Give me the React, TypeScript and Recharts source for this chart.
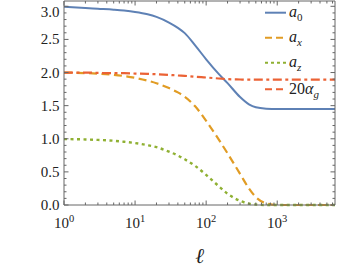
import { LineChart, Line, XAxis, YAxis, Legend } from 'recharts';

// multipole samples and the four curves
const ells = [1, 2, 3, 5, 7, 10, 15, 20, 30, 40, 50, 70, 100, 150, 200, 300, 400, 500, 700, 1000, 2000, 3000, 5000, 6500];
const a0 = [2.995, 2.975, 2.963, 2.948, 2.935, 2.915, 2.88, 2.84, 2.755, 2.675, 2.595, 2.41, 2.2, 1.98, 1.84, 1.63, 1.52, 1.475, 1.455, 1.45, 1.45, 1.45, 1.45, 1.45];
const ax = [2.0, 1.992, 1.983, 1.965, 1.947, 1.92, 1.877, 1.838, 1.765, 1.7, 1.635, 1.49, 1.27, 0.99, 0.78, 0.47, 0.25, 0.12, 0.025, 0, 0, 0, 0, 0];
const az = [0.995, 0.99, 0.983, 0.97, 0.955, 0.935, 0.903, 0.873, 0.805, 0.747, 0.69, 0.59, 0.455, 0.285, 0.17, 0.063, 0.02, 0.008, 0, 0, 0, 0, 0, 0];
const alphaG20 = [2.0, 2.0, 1.995, 1.99, 1.99, 1.985, 1.98, 1.975, 1.965, 1.955, 1.95, 1.935, 1.925, 1.91, 1.9, 1.895, 1.892, 1.892, 1.892, 1.892, 1.892, 1.892, 1.892, 1.892];

const xTicks = [1, 2, 3, 4, 5, 6, 7, 8, 9, 10, 20, 30, 40, 50, 60, 70, 80, 90, 100, 200, 300, 400, 500, 600, 700, 800, 900, 1000, 2000, 3000, 4000, 5000, 6000];
const yTicks = [0, 0.1, 0.2, 0.3, 0.4, 0.5, 0.6, 0.7, 0.8, 0.9, 1.0, 1.1, 1.2, 1.3, 1.4, 1.5, 1.6, 1.7, 1.8, 1.9, 2.0, 2.1, 2.2, 2.3, 2.4, 2.5, 2.6, 2.7, 2.8, 2.9, 3.0];

const data = ells.map((l, i) => ({ l, a0: a0[i], ax: ax[i], az: az[i], ag: alphaG20[i] }));

const FRAME = '#666';
const FONT = '"Liberation Serif", "DejaVu Serif", serif';
const BLUE = '#5E81B5';
const ORANGE = '#E19C24';
const GREEN = '#8FB032';
const RED = '#EB6235';

function XTick(props: any) {
  const { x, y, payload, side } = props;
  const lg = Math.log10(payload.value);
  const exp = Math.round(lg);
  const major = Math.abs(lg - exp) < 1e-9;
  const len = major ? 4.5 : 2.5;
  const inward = side === 'top' ? len : -len;
  return (
    <g>
      <line x1={x} x2={x} y1={y} y2={y + inward} stroke={FRAME} strokeWidth={1} />
      {major && side !== 'top' && (
        <text x={x} y={y + 23} textAnchor="middle" fontFamily={FONT} fontSize={15} fill="#222">
          10<tspan dy={-6} fontSize={10.5}>{exp}</tspan>
        </text>
      )}
    </g>
  );
}

function YTick(props: any) {
  const { x, y, payload, side } = props;
  const v = payload.value;
  const major = Math.abs(v * 2 - Math.round(v * 2)) < 1e-6;
  const len = major ? 4.5 : 2.5;
  const inward = side === 'right' ? -len : len;
  return (
    <g>
      <line x1={x} x2={x + inward} y1={y} y2={y} stroke={FRAME} strokeWidth={1} />
      {major && side !== 'right' && (
        <text x={x - 4.5} y={Math.max(y + 5, 16.5)} textAnchor="end" fontFamily={FONT} fontSize={15} fill="#222">
          {v.toFixed(1)}
        </text>
      )}
    </g>
  );
}

const legendRows = [
  { color: BLUE, dash: undefined, base: 'a', sub: '0', pre: '' },
  { color: ORANGE, dash: '7 4', base: 'a', sub: 'x', pre: '' },
  { color: GREEN, dash: '3 3', base: 'a', sub: 'z', pre: '' },
  { color: RED, dash: '7 4', base: 'α', sub: 'g', pre: '20' },
];
const legendY = [12.7, 37.7, 62.7, 89.3];

function LegendBox() {
  return (
    <svg width={76} height={100} style={{ display: 'block' }}>
      {legendRows.map((r, i) => (
        <g key={i}>
          <line x1={3} x2={24} y1={legendY[i]} y2={legendY[i]} stroke={r.color} strokeWidth={2} strokeDasharray={r.dash} />
          <text x={27} y={legendY[i] + 4.5} fontFamily={FONT} fontSize={16} fill="#222">
            {r.pre}
            <tspan fontStyle="italic">{r.base}</tspan>
            <tspan dy={4} fontSize={11} fontStyle={r.sub === '0' ? 'normal' : 'italic'}>{r.sub}</tspan>
          </text>
        </g>
      ))}
    </svg>
  );
}

export default function App() {
  return (
    <div style={{ position: 'absolute', left: 0, top: 0, width: 338, height: 270, background: '#fff' }}>
      <LineChart width={338} height={270} data={data} margin={{ top: 0, right: 2, bottom: 0, left: 0 }}>
        <XAxis
          dataKey="l"
          type="number"
          scale="log"
          domain={[1, 6500]}
          ticks={xTicks}
          interval={0}
          tickSize={0}
          tickMargin={0}
          tickLine={false}
          axisLine={{ stroke: FRAME }}
          height={65}
          tick={<XTick side="bottom" />}
          label={{ value: 'ℓ', position: 'insideBottom', offset: 7, style: { fontFamily: FONT, fontSize: 21, fontStyle: 'italic', fill: '#222' } }}
        />
        <XAxis
          xAxisId="top"
          orientation="top"
          dataKey="l"
          type="number"
          scale="log"
          domain={[1, 6500]}
          ticks={xTicks}
          interval={0}
          tickSize={0}
          tickMargin={0}
          tickLine={false}
          axisLine={{ stroke: FRAME }}
          height={1}
          tick={<XTick side="top" />}
        />
        <YAxis
          type="number"
          domain={[0, 3.08]}
          ticks={yTicks}
          interval={0}
          tickSize={0}
          tickMargin={0}
          tickLine={false}
          axisLine={{ stroke: FRAME }}
          width={64}
          tick={<YTick side="left" />}
        />
        <YAxis
          yAxisId="right"
          orientation="right"
          type="number"
          domain={[0, 3.08]}
          ticks={yTicks}
          interval={0}
          tickSize={0}
          tickMargin={0}
          tickLine={false}
          axisLine={{ stroke: FRAME }}
          width={1}
          tick={<YTick side="right" />}
        />
        <Legend
          layout="vertical"
          align="center"
          verticalAlign="middle"
          content={() => <LegendBox />}
          wrapperStyle={{ top: 0, left: 262, width: 76, height: 100 }}
        />
        {/* invisible series that keeps the top/right frame axes alive */}
        <Line xAxisId="top" yAxisId="right" dataKey="a0" stroke="transparent" dot={false} activeDot={false} legendType="none" isAnimationActive={false} />
        <Line dataKey="a0" type="monotone" stroke={BLUE} strokeWidth={2} dot={false} activeDot={false} isAnimationActive={false} />
        <Line dataKey="ax" type="monotone" stroke={ORANGE} strokeWidth={2.2} strokeDasharray="8 4.5" dot={false} activeDot={false} isAnimationActive={false} />
        <Line dataKey="az" type="monotone" stroke={GREEN} strokeWidth={2.4} strokeDasharray="3 3.5" dot={false} activeDot={false} isAnimationActive={false} />
        <Line dataKey="ag" type="monotone" stroke={RED} strokeWidth={2.2} strokeDasharray="9 3.5 3 3.5" dot={false} activeDot={false} isAnimationActive={false} />
      </LineChart>
    </div>
  );
}
